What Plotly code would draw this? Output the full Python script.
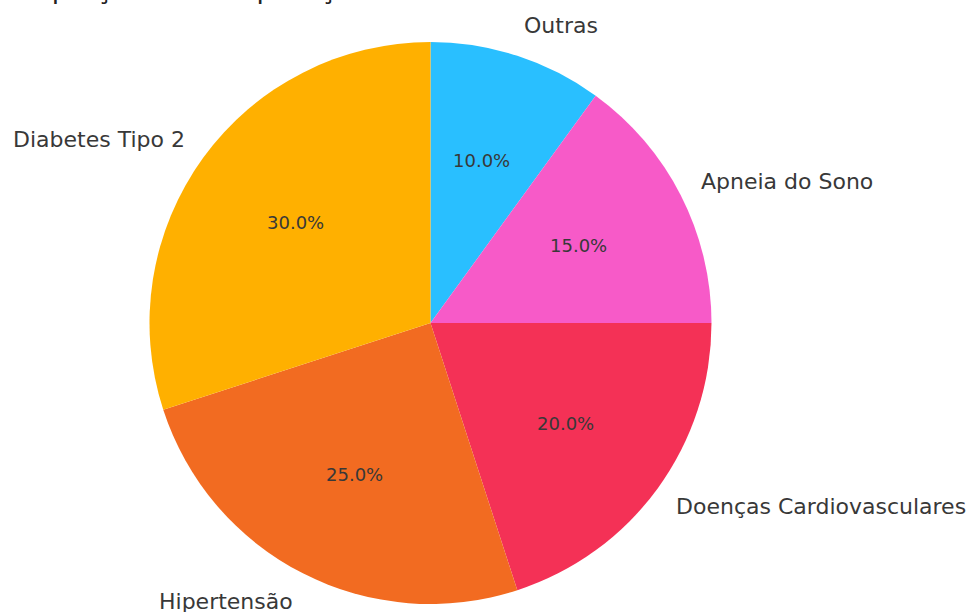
import math
import plotly.graph_objects as go

labels = ["Diabetes Tipo 2", "Hipertensão", "Doenças Cardiovasculares", "Apneia do Sono", "Outras"]
values = [30, 25, 20, 15, 10]
colors = ["#FFB000", "#F26B21", "#F43156", "#F75AC8", "#29BFFF"]
title_text = "Proporção de Complicações de Saúde Relacionadas à Obesidade"

W, H = 970, 612
cx, cy = 430.5, 323.0          # pie centre in pixels (from top-left)
R = 281.0                      # drawn pie radius
Rx, Ry = 277.5, 284.0          # radii used for text placement

# matplotlib-style: first slice starts at 12 o'clock and goes counter-clockwise;
# equivalently, the reversed list drawn clockwise from 12 o'clock.
fig = go.Figure(go.Pie(
    labels=labels[::-1], values=values[::-1], sort=False, direction="clockwise", rotation=0,
    marker=dict(colors=colors[::-1], line=dict(width=0)),
    textinfo="none", hoverinfo="label+percent", showlegend=False,
    domain=dict(x=[(cx - R) / W, (cx + R) / W], y=[(H - cy - R) / H, (H - cy + R) / H]),
))

total = sum(values)
start = 90.0
annotations = []
for lab, v in zip(labels, values):
    span = 360.0 * v / total
    mid = math.radians(start + span / 2)
    start += span
    px = cx + 0.6 * Rx * math.cos(mid)
    py = cy - 0.6 * Ry * math.sin(mid)
    annotations.append(dict(x=px / W, y=1 - py / H, xref="paper", yref="paper",
                            text=f"{100 * v / total:.1f}%", showarrow=False,
                            xanchor="center", yanchor="middle",
                            font=dict(family="DejaVu Sans", size=18, color="#383838")))
    lx = cx + 1.1 * Rx * math.cos(mid)
    ly = cy - 1.1 * Ry * math.sin(mid)
    right = math.cos(mid) > 0
    annotations.append(dict(x=lx / W, y=1 - ly / H, xref="paper", yref="paper",
                            text=lab, showarrow=False, borderpad=0,
                            xshift=-2 if right else 2,
                            xanchor="left" if right else "right", yanchor="middle",
                            font=dict(family="DejaVu Sans", size=22, color="#383838")))

annotations.append(dict(x=445 / W, y=1 + 12 / H, xref="paper", yref="paper", text=title_text,
                        showarrow=False, xanchor="center", yanchor="middle",
                        font=dict(family="DejaVu Sans", size=27, color="#222222")))

fig.update_layout(width=W, height=H, margin=dict(l=0, r=0, t=0, b=0),
                  paper_bgcolor="white", plot_bgcolor="white", annotations=annotations)
fig.write_html("out.html", config={"displayModeBar": False},
               post_script="document.body.style.margin='0';")
